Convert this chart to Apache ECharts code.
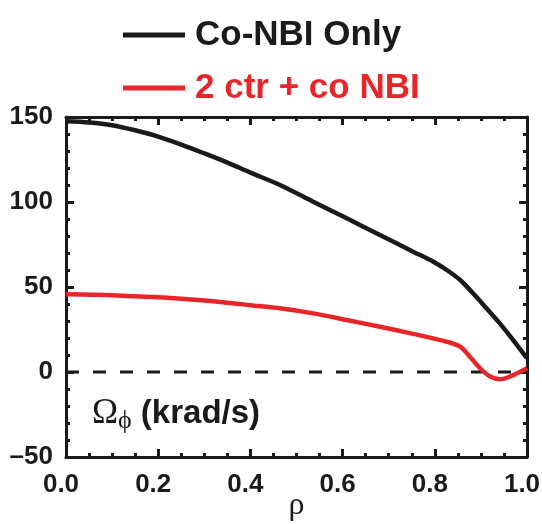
<!DOCTYPE html>
<html><head><meta charset="utf-8">
<script src="https://cdn.jsdelivr.net/npm/echarts@6/dist/echarts.min.js"></script>
<style>html,body{margin:0;padding:0;background:#fff}#c{width:542px;height:524px}</style>
</head><body><div id="c"></div>
<script>
const seriesNames = ['Co-NBI Only', '2 ctr + co NBI'];
const rhoCo = [0, 0.05, 0.1, 0.15, 0.2, 0.25, 0.3, 0.35, 0.4, 0.464, 0.536, 0.609, 0.681, 0.753, 0.797, 0.826, 0.855, 0.883, 0.912, 0.941, 0.97, 1.0];
const omegaCo = [147.5, 146.8, 145.2, 142.2, 138.5, 133.8, 128.6, 123.2, 117.3, 110, 100.2, 90.4, 80.6, 70.8, 64.9, 60, 54.1, 46.3, 37.5, 28.6, 18.8, 8.1];
const rhoCtr = [0, 0.1, 0.2, 0.3, 0.35, 0.4, 0.464, 0.536, 0.609, 0.681, 0.753, 0.826, 0.855, 0.876, 0.898, 0.92, 0.941, 0.97, 1.0];
const omegaCtr = [45.7, 45.2, 43.9, 42.0, 40.8, 39.3, 37.5, 34.5, 30.6, 26.6, 22.4, 17.8, 14.9, 9.0, 2.2, -2.7, -4.3, -1.8, 2.2];
const xTicks = ['0.0', '0.2', '0.4', '0.6', '0.8', '1.0'];
const yTicks = [-50, 0, 50, 100, 150];

const F = '"Liberation Sans Narrow", "Liberation Sans", Arial, sans-serif';
const chart = echarts.init(document.getElementById('c'));
const axisLine = {onZero: false, lineStyle: {color: '#1a1a1a', width: 3}};
const axisTick = {inside: true, length: 8, lineStyle: {color: '#1a1a1a', width: 3}};
const minor = n => ({show: true, splitNumber: n, length: 4, lineStyle: {color: '#1a1a1a', width: 3}});
const mk = (r, v) => r.map((x, i) => [x, v[i]]);
chart.setOption({
  animation: false,
  grid: {left: 66, right: 15, top: 117, bottom: 67, containLabel: false, outerBoundsMode: 'none'},
  legend: {
    orient: 'vertical', left: 123, top: 17, padding: 0, itemWidth: 62, itemHeight: 5, itemGap: 17,
    icon: 'rect',
    data: [
      {name: seriesNames[0], textStyle: {color: '#1a1a1a'}},
      {name: seriesNames[1], textStyle: {color: '#e8262a'}}
    ],
    textStyle: {fontFamily: F, fontWeight: 'bold', fontSize: 35, lineHeight: 36, padding: [0, 0, 0, 5]}
  },
  xAxis: [
    {type: 'value', min: 0, max: 1, interval: 0.2, axisLine, axisTick, minorTick: minor(4), splitLine: {show: false},
      axisLabel: {fontFamily: F, fontWeight: 'bold', fontSize: 26, color: '#1a1a1a', margin: 15,
        padding: [0, 10, 0, 0], formatter: v => xTicks[Math.round(v / 0.2)]},
      name: 'ρ', nameLocation: 'middle', nameGap: 33, nameMoveOverlap: false,
      nameTextStyle: {fontFamily: '"Liberation Serif", serif', fontSize: 32, color: '#1a1a1a', verticalAlign: 'top'}},
    {type: 'value', position: 'top', min: 0, max: 1, interval: 0.2, axisLine, axisTick, minorTick: minor(4),
      axisLabel: {show: false}, splitLine: {show: false}}
  ],
  yAxis: [
    {type: 'value', min: -50, max: 150, interval: 50, axisLine, axisTick, minorTick: minor(5), splitLine: {show: false},
      axisLabel: {fontFamily: F, fontWeight: 'bold', fontSize: 26, color: '#1a1a1a', margin: 13,
        formatter: v => (yTicks.indexOf(v) >= 0 ? String(v).replace('-', '–') : '')}},
    {type: 'value', position: 'right', min: -50, max: 150, interval: 50, axisLine, axisTick, minorTick: minor(5),
      splitLine: {show: false}, axisLabel: {show: false}}
  ],
  graphic: [{
    type: 'text', left: 92, top: 396,
    style: {
      text: '{o|Ω}{p|ϕ}{t| (krad/s)}',
      rich: {
        o: {fontFamily: '"Liberation Serif", serif', fontSize: 35, fill: '#1a1a1a'},
        p: {fontFamily: '"Liberation Serif", serif', fontSize: 26, fill: '#1a1a1a', padding: [16, 0, 0, 0]},
        t: {fontFamily: F, fontWeight: 'bold', fontSize: 33, fill: '#1a1a1a'}
      }
    }
  }],
  series: [
    {name: seriesNames[0], type: 'line', data: mk(rhoCo, omegaCo), smooth: 0.3, showSymbol: false,
      lineStyle: {color: '#1a1a1a', width: 4.5}, itemStyle: {color: '#1a1a1a'}, z: 3},
    {name: seriesNames[1], type: 'line', data: mk(rhoCtr, omegaCtr), smooth: 0.3, showSymbol: false,
      lineStyle: {color: '#e8262a', width: 4.5}, itemStyle: {color: '#e8262a'}, z: 3},
    {name: 'zero', type: 'line', data: [[0, 0], [1, 0]], showSymbol: false, silent: true,
      lineStyle: {color: '#1a1a1a', width: 3, type: [13, 14]}, z: 2}
  ]
});
</script></body></html>
